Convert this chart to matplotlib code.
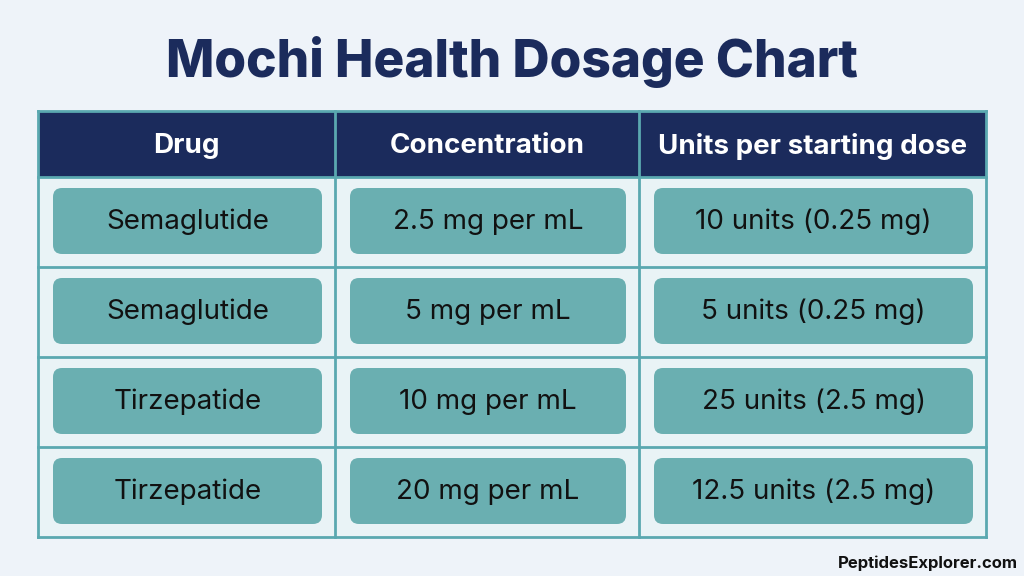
import matplotlib
matplotlib.use("Agg")
import matplotlib.pyplot as plt
from matplotlib.patches import Rectangle, FancyBboxPatch

title = "Mochi Health Dosage Chart"
headers = ["Drug", "Concentration", "Units per starting dose"]
drugs = ["Semaglutide", "Semaglutide", "Tirzepatide", "Tirzepatide"]
concentrations = ["2.5 mg per mL", "5 mg per mL", "10 mg per mL", "20 mg per mL"]
doses = ["10 units (0.25 mg)", "5 units (0.25 mg)", "25 units (2.5 mg)", "12.5 units (2.5 mg)"]

NAVY = "#1b2b5c"; TEAL = "#6aafb1"; LINE = "#5aa8b0"; BG = "#eef3f9"; CELL = "#e9f3f6"

fig = plt.figure(figsize=(10.24, 5.76), dpi=100)
fig.patch.set_facecolor(BG)
ax = fig.add_axes([0, 0, 1, 1])
ax.set_xlim(0, 1024); ax.set_ylim(576, 0); ax.axis("off")

fam = ["Inter", "DejaVu Sans"]
ax.text(512, 62, title, ha="center", va="center", fontsize=37, fontweight="heavy", color=NAVY, family=fam)

xs = [38, 335, 639, 986]
ys = [111, 177, 267, 357, 447, 537]
ax.add_patch(Rectangle((xs[0], ys[1]), xs[-1]-xs[0], ys[-1]-ys[1], facecolor=CELL, edgecolor="none"))
ax.add_patch(Rectangle((xs[0], ys[0]), xs[-1]-xs[0], ys[1]-ys[0], facecolor=NAVY, edgecolor="none"))
for i, h in enumerate(headers):
    ax.text((xs[i]+xs[i+1])/2, (ys[0]+ys[1])/2 + 2, h, ha="center", va="center", fontsize=20,
            fontweight="bold", color="white", family=fam)

cols = [drugs, concentrations, doses]
for r in range(4):
    for c in range(3):
        x0, x1 = xs[c]+15, xs[c+1]-13
        y0, y1 = ys[r+1]+11, ys[r+2]-13
        ax.add_patch(FancyBboxPatch((x0, y0), x1-x0, y1-y0, boxstyle="round,pad=0,rounding_size=9",
                                    facecolor=TEAL, edgecolor="none"))
        ax.text((x0+x1)/2, (y0+y1)/2 + 1, cols[c][r], ha="center", va="center", fontsize=20,
                color="#111111", family=fam)

for x in xs:
    ax.plot([x, x], [ys[0], ys[-1]], color=LINE, lw=2)
for y in ys:
    ax.plot([xs[0], xs[-1]], [y, y], color=LINE, lw=2)

ax.text(1018, 563, "PeptidesExplorer.com", ha="right", va="center", fontsize=12, fontweight="bold",
        color="#111111", family=fam)

fig.savefig("out.png", dpi=100, facecolor=BG)
